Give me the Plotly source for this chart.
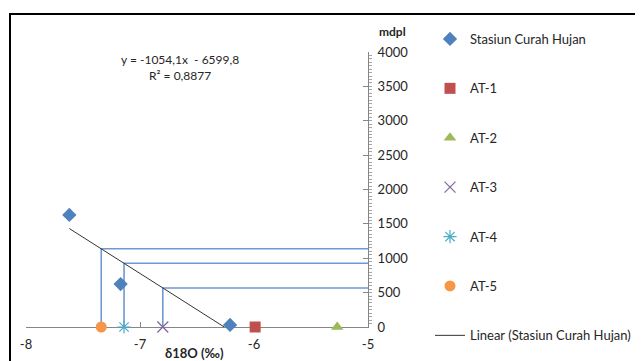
import plotly.graph_objects as go

# ---- data ----
stasiun_x = [-7.62, -7.17, -6.21]
stasiun_y = [1630, 625, 30]

at_names = ["AT-1", "AT-2", "AT-3", "AT-4", "AT-5"]
at_x = [-5.99, -5.27, -6.80, -7.14, -7.34]
at_y = [0, 0, 0, 0, 0]
at_colors = ["#C0504D", "#9BBB59", "#8064A2", "#4BACC6", "#F79646"]
at_symbols = ["square", "triangle-up", "x-thin-open", "asterisk-open", "circle"]

trend_slope = -1054.1
trend_intercept = -6599.8
projected = ["AT-3", "AT-4", "AT-5"]

x_ticks = [-8, -7, -6, -5]
y_ticks = [0, 500, 1000, 1500, 2000, 2500, 3000, 3500, 4000]

FONT = "Lato, 'Open Sans', sans-serif"
TXT = "#262626"
OFF = 8  # page body margin offset

fig = go.Figure()

# projection lines (drawn first so markers sit on top)
for name, x in zip(at_names, at_x):
    if name in projected:
        yv = trend_slope * x + trend_intercept
        fig.add_trace(go.Scatter(
            x=[x, x, -5], y=[0, yv, yv], mode="lines",
            line=dict(color="#7098D2", width=1.6),
            showlegend=False, hoverinfo="skip", cliponaxis=False))

fig.add_trace(go.Scatter(
    x=stasiun_x, y=stasiun_y, mode="markers", name="Stasiun Curah Hujan",
    marker=dict(symbol="diamond", size=11, color="#4F81BD"),
    legendgroup="g0", cliponaxis=False))

for i, (name, x, y, c, s) in enumerate(zip(at_names, at_x, at_y, at_colors, at_symbols)):
    if s.endswith("open"):
        mk = dict(symbol=s, size=11, color=c, line=dict(color=c, width=1.2))
    else:
        mk = dict(symbol=s, size=11, color=c)
    fig.add_trace(go.Scatter(
        x=[x], y=[y], mode="markers", name=name, marker=mk,
        legendgroup="g%d" % (i + 1), cliponaxis=False))

# trendline from min x to the x-axis crossing
tx0 = min(stasiun_x)
tx1 = -trend_intercept / trend_slope
fig.add_trace(go.Scatter(
    x=[tx0, tx1], y=[trend_slope * tx0 + trend_intercept, trend_slope * tx1 + trend_intercept],
    mode="lines", name="Linear (Stasiun Curah Hujan)",
    line=dict(color="#333333", width=1), legendgroup="g9"))

def px(xp):
    return (xp - 26) / 342

def py(yp):
    return (327 - yp) / 275

fig.update_layout(
    width=643, height=361,
    margin=dict(l=26 - OFF, r=643 - 368 + OFF, t=52 - OFF, b=361 - 327 + OFF, autoexpand=False),
    paper_bgcolor="white", plot_bgcolor="white",
    font=dict(family=FONT, size=12, color=TXT),
    showlegend=True,
    legend=dict(x=px(430), y=py(24), xanchor="left", yanchor="top",
                traceorder="grouped", tracegroupgap=29.5, maxheight=600,
                font=dict(family=FONT, size=13, color=TXT),
                itemwidth=30, bgcolor="rgba(0,0,0,0)"),
    xaxis=dict(range=[-8, -5], tickvals=x_ticks, ticktext=[str(v) for v in x_ticks],
               showgrid=False, zeroline=False, showline=True, linecolor="#868686",
               linewidth=1, ticks="inside", ticklen=5, tickcolor="#868686",
               layer="below traces",
               ticklabelstandoff=5, tickfont=dict(size=13, color=TXT)),
    yaxis=dict(range=[0, 4000], tickvals=y_ticks, side="right",
               showgrid=False, zeroline=False, showline=True, linecolor="#868686",
               linewidth=1, ticks="inside", ticklen=5, tickcolor="#868686",
               layer="below traces",
               minor=dict(ticks="outside", ticklen=3, dtick=50, tickcolor="#A6A6A6"),
               ticklabelstandoff=6, tickfont=dict(size=13, color=TXT)),
    annotations=[
        dict(text="y = -1054,1x  - 6599,8<br>R² = 0,8877", xref="paper", yref="paper",
             x=px(180), y=py(67), xanchor="center", yanchor="middle", showarrow=False,
             font=dict(size=12, color=TXT), align="center"),
        dict(text="<b>mdpl</b>", xref="paper", yref="paper",
             x=px(392), y=py(32), xanchor="center", yanchor="middle", showarrow=False,
             font=dict(size=12, color=TXT)),
        dict(text="<b>δ18O (‰)</b>", xref="paper", yref="paper",
             x=px(194), y=py(353), xanchor="center", yanchor="middle", showarrow=False,
             font=dict(size=13, color=TXT)),
    ],
    shapes=[dict(type="rect", xref="paper", yref="paper",
                 x0=px(10), x1=px(670),
                 y0=py(380), y1=py(14),
                 line=dict(color="black", width=2), layer="below")],
)

fig.write_html("out.html")
